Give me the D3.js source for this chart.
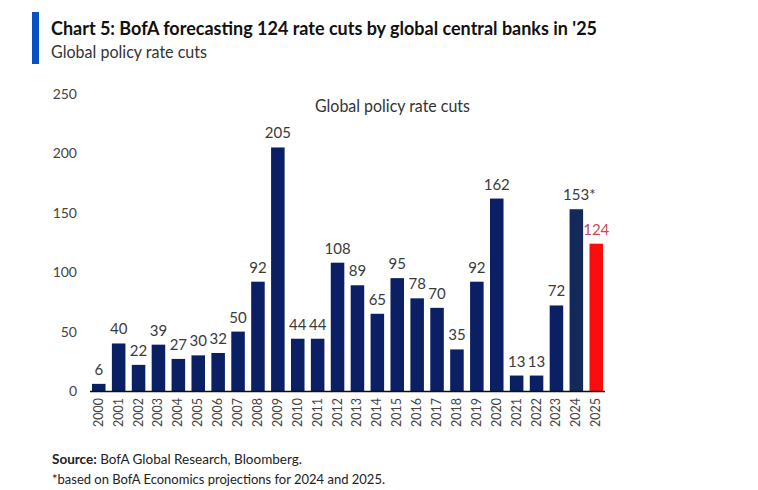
<!DOCTYPE html>
<html><head><meta charset="utf-8">
<script src="https://cdn.jsdelivr.net/npm/d3@7"></script>
<style>
body{margin:0;background:#fff;}
text{font-family:Lato,"Open Sans",sans-serif;}
</style></head>
<body><svg id="c" width="758" height="490"></svg>
<script>
const years = ["2000","2001","2002","2003","2004","2005","2006","2007","2008","2009","2010","2011","2012","2013","2014","2015","2016","2017","2018","2019","2020","2021","2022","2023","2024","2025"];
const cuts = [6,40,22,39,27,30,32,50,92,205,44,44,108,89,65,95,78,70,35,92,162,13,13,72,153,124];
const valueLabels = ["6","40","22","39","27","30","32","50","92","205","44","44","108","89","65","95","78","70","35","92","162","13","13","72","153*","124"];
const yTicks = [0,50,100,150,200,250];
const barColors = {"2024":"#13295a","2025":"#fb0d0d"};

const svg = d3.select("#c");
const x = d3.scaleBand().domain(years).range([88,607]).paddingInner(0.32).paddingOuter(0.2);
const y = d3.scaleLinear().domain([0,250]).range([391,94]);

// fit text horizontally to a target width (condensed look)
function fit(sel, w){
  const n = sel.node(); const l = n.getComputedTextLength();
  sel.attr("textLength", w).attr("lengthAdjust","spacingAndGlyphs");
}

// header
svg.append("rect").attr("x",32).attr("y",12).attr("width",7).attr("height",52).attr("fill","#0a4fc4");
fit(svg.append("text").attr("x",51).attr("y",35).attr("font-size",18).attr("font-weight","bold").attr("fill","#111")
  .text("Chart 5: BofA forecasting 124 rate cuts by global central banks in '25"), 546);
fit(svg.append("text").attr("x",51).attr("y",58).attr("font-size",17).attr("fill","#333").text("Global policy rate cuts"), 156);

// inner title
fit(svg.append("text").attr("x",315).attr("y",112).attr("font-size",17).attr("fill","#333").text("Global policy rate cuts"), 155);

// y axis labels
svg.append("g").selectAll("text").data(yTicks).join("text")
  .attr("x",77).attr("y",d=>y(d)+5).attr("text-anchor","end").attr("font-size",14).attr("fill","#444").text(d=>d);

// bars
svg.append("g").selectAll("rect").data(years).join("rect")
  .attr("x",d=>x(d)).attr("width",x.bandwidth())
  .attr("y",(d,i)=>y(cuts[i])).attr("height",(d,i)=>y(0)-y(cuts[i]))
  .attr("fill",d=>barColors[d]||"#0b1f64");

// value labels
svg.append("g").selectAll("text").data(years).join("text")
  .attr("x",d=>x(d)+x.bandwidth()/2 + (d==="2024"?3:0)).attr("y",(d,i)=>y(cuts[i])-9)
  .attr("text-anchor","middle").attr("font-size",15).attr("fill",d=>d==="2025"?"#c9485a":"#3a3a3a")
  .text((d,i)=>valueLabels[i]);

// x axis line
svg.append("line").attr("x1",90).attr("x2",605).attr("y1",391.5).attr("y2",391.5).attr("stroke","#111").attr("stroke-width",1.5);

// year labels
svg.append("g").selectAll("text").data(years).join("text")
  .attr("transform",d=>`translate(${x(d)+x.bandwidth()/2+4},398) rotate(-90)`)
  .attr("text-anchor","end").attr("font-size",12.5).attr("fill","#444").text(d=>d);

// footer
const f1 = svg.append("text").attr("x",52).attr("y",464).attr("font-size",13.5).attr("fill","#222");
f1.append("tspan").attr("font-weight","bold").text("Source:");
f1.append("tspan").text(" BofA Global Research, Bloomberg.");
fit(svg.append("text").attr("x",52).attr("y",484).attr("font-size",13.5).attr("fill","#222").text("*based on BofA Economics projections for 2024 and 2025."), 333);
</script></body></html>
